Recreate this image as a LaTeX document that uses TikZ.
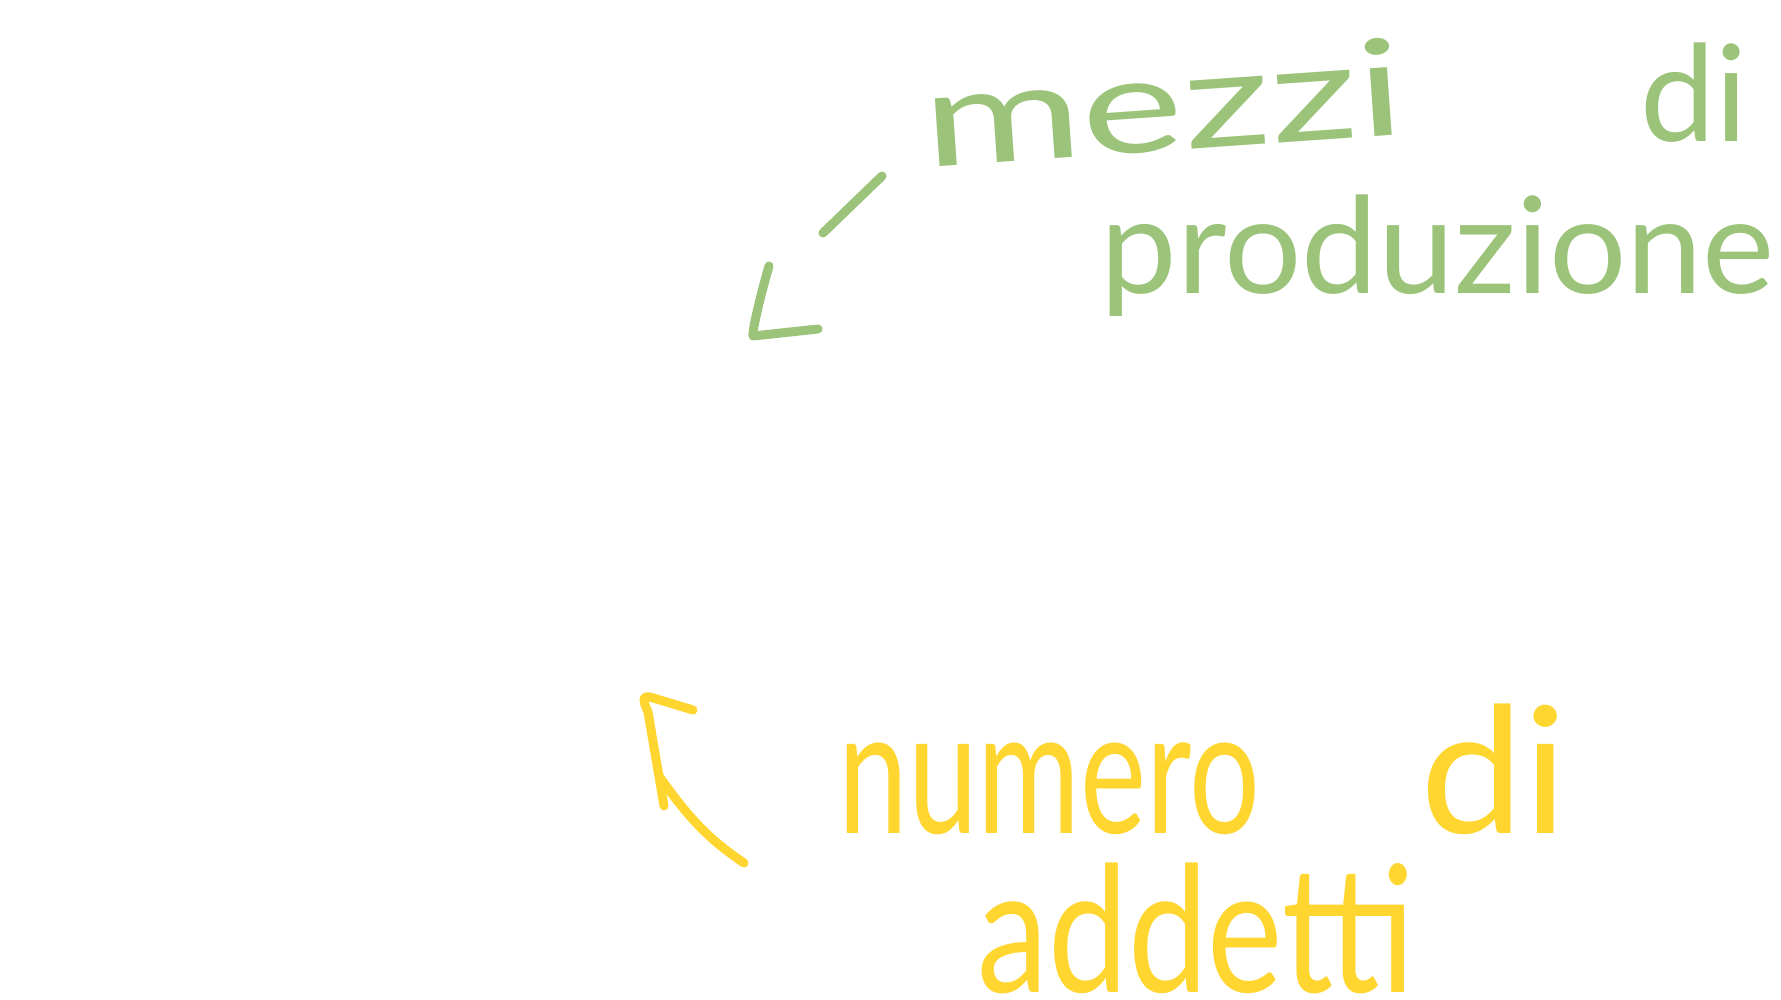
\documentclass[tikz,border=0pt]{standalone}
\usepackage{fontspec}
\setmainfont{Lato}
\usepackage{graphicx}
\definecolor{vgreen}{HTML}{9BC47A}
\definecolor{vyellow}{HTML}{FFD630}
\begin{document}
\begin{tikzpicture}[x=0.5pt,y=-0.5pt,
  gword/.style={anchor=base west,inner sep=0pt,text=vgreen,font=\fontsize{67pt}{80pt}\selectfont},
  yword/.style={anchor=base west,inner sep=0pt,text=vyellow,font=\fontsize{88pt}{100pt}\selectfont},
  gstroke/.style={draw=vgreen,line width=4.5pt,line cap=round,line join=round},
  ystroke/.style={draw=vyellow,line width=4.5pt,line cap=round,line join=round}]
\useasboundingbox[fill=white] (0,0) rectangle (1781,1000);
% green label
\node[gword,rotate=4] (mezzi) at (926,168) {\scalebox{1.44}[1]{mezzi}};
\node[gword] (gdi) at (1640,142) {di};
\node[gword] (produzione) at (1100,293) {\scalebox{1.02}[1]{produzione}};
% green arrow
\draw[gstroke] (882,176) -- (823,233);
\draw[gstroke] (769,266) .. controls (762,290) and (752,330) .. (753,336) -- (818,329);
% yellow label
\node[yword] (numero) at (838,833) {\scalebox{0.71}[1]{numero}};
\node[yword] (ydi) at (1420,833) {\scalebox{1.05}[1]{di}};
\node[yword] (addetti) at (977,992) {\scalebox{0.81}[1]{addetti}};
% yellow arrow
\draw[ystroke] (744,863) .. controls (710,840) and (690,820) .. (659,776);
\draw[ystroke] (693,710) -- (650,697) .. controls (640,695) and (645,705) .. (648,712) -- (664,806);
\end{tikzpicture}
\end{document}
